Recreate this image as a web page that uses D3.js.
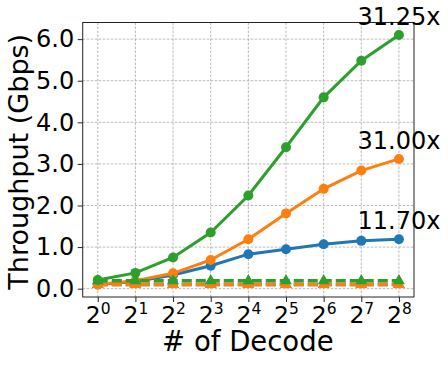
<!DOCTYPE html>
<html lang="en">
<head>
	<meta charset="UTF-8">
	<title>Throughput vs Decode</title>
	<script src="https://cdn.jsdelivr.net/npm/d3@7"></script>
	<style>
		body { margin: 0; background: #fff; }
		text { font-family: "DejaVu Sans", sans-serif; fill: #000; }
	</style>
</head>
<body>
	<svg id="svg"></svg>
	<script>
		// x positions are exponents of 2
		var exps = [0, 1, 2, 3, 4, 5, 6, 7, 8];
		var yTicks = [0, 1, 2, 3, 4, 5, 6];

		var blueVals = [0.10, 0.17, 0.33, 0.55, 0.83, 0.95, 1.07, 1.15, 1.19];
		var orangeVals = [0.10, 0.19, 0.37, 0.69, 1.19, 1.81, 2.40, 2.84, 3.12];
		var greenVals = [0.21, 0.38, 0.75, 1.35, 2.24, 3.40, 4.60, 5.48, 6.10];

		var blueBase = [0.10, 0.10, 0.10, 0.10, 0.10, 0.10, 0.10, 0.10, 0.10];
		var orangeBase = [0.10, 0.10, 0.10, 0.10, 0.10, 0.10, 0.10, 0.10, 0.10];
		var greenBase = [0.19, 0.19, 0.19, 0.19, 0.19, 0.19, 0.19, 0.19, 0.19];

		var speedups = ["11.70x", "31.00x", "31.25x"];
		var colors = ["#1f77b4", "#ff7f0e", "#2ca02c"];

		var w = 448, h = 366,
			pLeft = 82.7, pRight = 414, pTop = 22.5, pBottom = 297;

		var svg = d3.select("#svg").attr("width", w).attr("height", h);

		var x = d3.scaleLinear().domain([-0.4, 8.4]).range([pLeft, pRight]);
		var y = d3.scaleLinear().domain([-0.2, 6.4]).range([pBottom, pTop]);

		// grid
		var grid = svg.append("g");
		grid.selectAll("line.gx").data(exps).enter().append("line")
			.attr("x1", function(d) { return x(d); }).attr("x2", function(d) { return x(d); })
			.attr("y1", pTop).attr("y2", pBottom)
			.attr("stroke", "#a8a8a8").attr("stroke-width", 0.8)
			.attr("stroke-dasharray", "2.5,1.5");
		grid.selectAll("line.gy").data(yTicks).enter().append("line")
			.attr("y1", function(d) { return y(d); }).attr("y2", function(d) { return y(d); })
			.attr("x1", pLeft).attr("x2", pRight)
			.attr("stroke", "#a8a8a8").attr("stroke-width", 0.8)
			.attr("stroke-dasharray", "2.5,1.5");

		// axes
		var xAxis = svg.append("g")
			.attr("transform", "translate(0," + pBottom + ")")
			.call(d3.axisBottom(x).tickValues(exps).tickSize(5).tickPadding(4.5).tickSizeOuter(0));
		xAxis.select(".domain").remove();
		xAxis.attr("font-family", null).attr("font-size", null);
		xAxis.selectAll(".tick line").attr("stroke", "#222");
		xAxis.selectAll(".tick text")
			.style("font-size", "23.5px")
			.text(null)
			.each(function(d) {
				var t = d3.select(this);
				t.append("tspan").text("2");
				t.append("tspan").attr("dy", "-9").style("font-size", "15.5px").text(d);
			});

		var yAxis = svg.append("g")
			.attr("transform", "translate(" + pLeft + ",0)")
			.call(d3.axisLeft(y).tickValues(yTicks).tickSize(5).tickPadding(3.5)
				.tickSizeOuter(0).tickFormat(d3.format(".1f")));
		yAxis.select(".domain").remove();
		yAxis.attr("font-family", null).attr("font-size", null);
		yAxis.selectAll(".tick line").attr("stroke", "#222");
		yAxis.selectAll(".tick text").style("font-size", "24px");

		var line = d3.line()
			.x(function(d, i) { return x(exps[i]); })
			.y(function(d) { return y(d); });

		var triangle = d3.symbol().type(d3.symbolTriangle).size(60);

		var series = [
			{ vals: blueVals, base: blueBase, color: colors[0], label: speedups[0] },
			{ vals: orangeVals, base: orangeBase, color: colors[1], label: speedups[1] },
			{ vals: greenVals, base: greenBase, color: colors[2], label: speedups[2] }
		];

		series.forEach(function(s) {
			var g = svg.append("g");
			g.append("path").datum(s.vals)
				.attr("d", line)
				.attr("fill", "none")
				.attr("stroke", s.color)
				.attr("stroke-width", 3);
			g.selectAll("circle").data(s.vals).enter().append("circle")
				.attr("cx", function(d, i) { return x(exps[i]); })
				.attr("cy", function(d) { return y(d); })
				.attr("r", 5)
				.attr("fill", s.color);

			g.append("path").datum(s.base)
				.attr("d", line)
				.attr("fill", "none")
				.attr("stroke", s.color)
				.attr("stroke-width", 3.5)
				.attr("stroke-dasharray", "10,4");
			g.selectAll("path.tri").data(s.base).enter().append("path")
				.attr("class", "tri")
				.attr("d", triangle)
				.attr("transform", function(d, i) {
					return "translate(" + x(exps[i]) + "," + y(d) + ")";
				})
				.attr("fill", s.color);
		});

		// frame
		svg.append("rect")
			.attr("x", pLeft).attr("y", pTop)
			.attr("width", pRight - pLeft).attr("height", pBottom - pTop)
			.attr("fill", "none").attr("stroke", "#222").attr("stroke-width", 1);

		// speedup labels at the last point
		series.forEach(function(s) {
			svg.append("text")
				.attr("x", x(exps[exps.length - 1]))
				.attr("y", y(s.vals[s.vals.length - 1]) - 10)
				.attr("text-anchor", "middle")
				.style("font-size", "24px")
				.text(s.label);
		});

		svg.append("text")
			.attr("x", (pLeft + pRight) / 2 - 0.5)
			.attr("y", 351)
			.attr("text-anchor", "middle")
			.style("font-size", "27.5px")
			.text("# of Decode");

		svg.append("text")
			.attr("transform", "translate(28," + ((pTop + pBottom) / 2 + 2) + ") rotate(-90)")
			.attr("text-anchor", "middle")
			.style("font-size", "27px")
			.text("Throughput (Gbps)");
	</script>
</body>
</html>
